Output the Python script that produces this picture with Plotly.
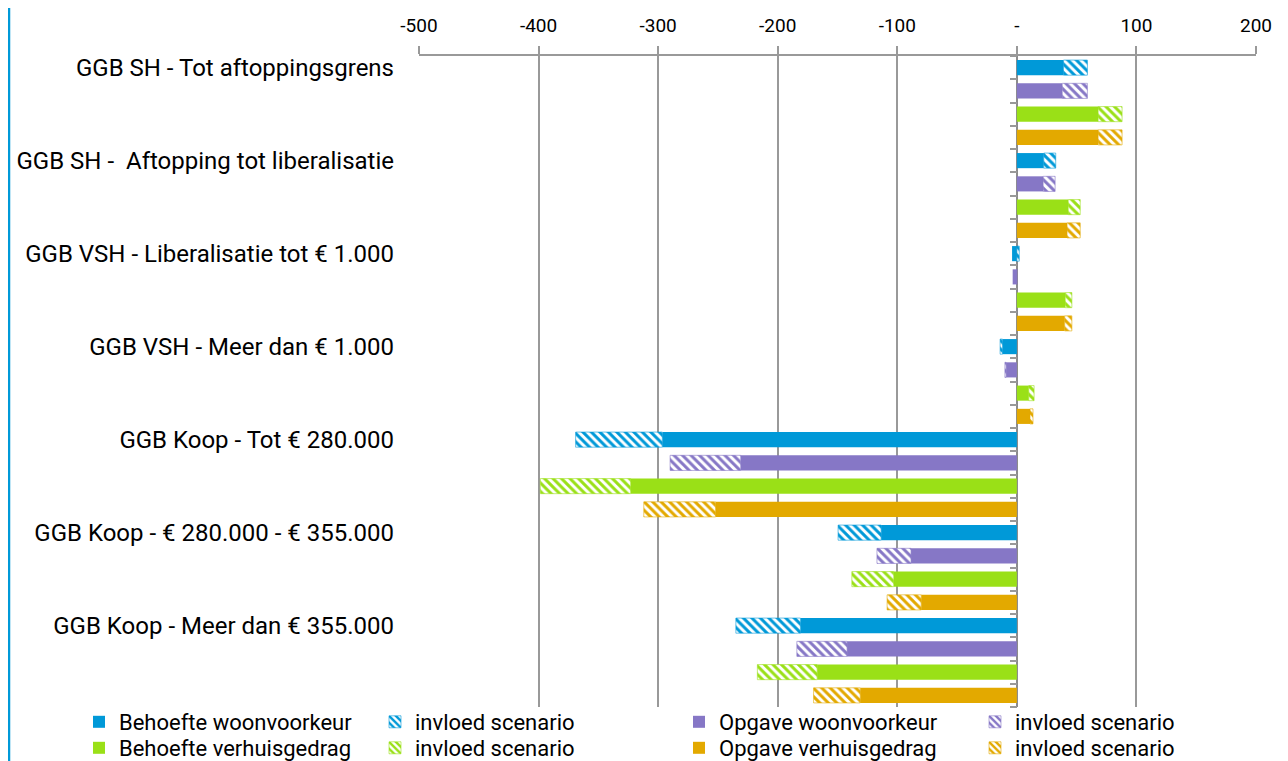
import plotly.graph_objects as go

groups = [
    "GGB SH - Tot aftoppingsgrens",
    "GGB SH -  Aftopping tot liberalisatie",
    "GGB VSH - Liberalisatie tot € 1.000",
    "GGB VSH - Meer dan € 1.000",
    "GGB Koop - Tot € 280.000",
    "GGB Koop - € 280.000 - € 355.000",
    "GGB Koop - Meer dan € 355.000",
]

behoefte_woon = [39, 22.5, -4, -12, -296.5, -113.5, -181]
behoefte_woon_scen = [20, 10, 2, -2, -72.5, -36, -54]
opgave_woon = [38, 22, -3.5, -9, -231, -88.5, -142]
opgave_woon_scen = [21, 10, 0, -1, -59, -28.5, -42]
behoefte_verh = [68, 43, 40.5, 10, -323, -103, -167]
behoefte_verh_scen = [20, 10, 5.5, 4.4, -75.5, -35, -50]
opgave_verh = [68, 42, 40, 11, -252, -80, -131]
opgave_verh_scen = [20, 11, 6, 2.5, -60, -28.5, -39]

x_tickvals = [-500, -400, -300, -200, -100, 0, 100, 200]
x_ticktext = ["-500", "-400", "-300", "-200", "-100", "-", "100", "200"]

# (name, base, scenario, colour, slot in group, legend column, legend row)
series = [
    ("Behoefte woonvoorkeur", behoefte_woon, behoefte_woon_scen, "#0099D8", 0, 0, 0),
    ("Opgave woonvoorkeur", opgave_woon, opgave_woon_scen, "#8677C6", 1, 2, 0),
    ("Behoefte verhuisgedrag", behoefte_verh, behoefte_verh_scen, "#9AE017", 2, 0, 1),
    ("Opgave verhuisgedrag", opgave_verh, opgave_verh_scen, "#E3A900", 3, 2, 1),
]

FONT = "Roboto, Liberation Sans Narrow, DejaVu Sans Condensed, sans-serif"
n_per = 4
n_groups = len(groups)
n_slots = n_groups * n_per
boundaries = [i - 0.5 for i in range(n_slots + 1)]

# page offset (body margin) and plot area in figure pixels
OFF = 8
W, H = 1288 - OFF, 761 - OFF
PL, PR, PT, PB = 419 - OFF, 1256 - OFF, 56 - OFF, 707 - OFF
PW, PH = PR - PL, PB - PT

legend_cols_px = [c - OFF for c in (79, 375, 679, 975)]
legend_rows_px = [r - OFF for r in (722, 748)]

fig = go.Figure()
legend_layouts = {}
li = 0
for name, base, scen, col, k, lc, lr in series:
    ys = [g * n_per + k for g in range(n_groups)]
    for j, (vals, is_scen) in enumerate([(base, False), (scen, True)]):
        li += 1
        lname = "legend" if li == 1 else f"legend{li}"
        if is_scen:
            marker = dict(color="white", line=dict(width=0.6, color=col),
                          pattern=dict(shape="\\", fgcolor=col, bgcolor="white",
                                       size=6, solidity=0.5, fillmode="replace"))
            tname = "invloed scenario"
        else:
            marker = dict(color=col, line=dict(width=0))
            tname = name
        fig.add_trace(go.Bar(
            y=ys, x=vals, orientation="h", name=tname, marker=marker,
            width=0.65, legend=lname,
        ))
        xpx = legend_cols_px[lc + j]
        ypx = legend_rows_px[lr]
        legend_layouts[lname] = dict(
            x=(xpx - PL) / PW, xanchor="left",
            y=(PB - ypx) / PH, yanchor="middle",
            font=dict(size=22, family=FONT, color="#000000"),
            bgcolor="rgba(0,0,0,0)", itemclick=False, itemdoubleclick=False,
        )

# helper trace so the tick axis on the zero line is drawn
fig.add_trace(go.Scatter(
    x=behoefte_woon, y=[g * n_per for g in range(n_groups)], yaxis="y2",
    mode="markers", marker=dict(size=0.1, opacity=0), showlegend=False,
    hoverinfo="skip",
))

fig.update_layout(
    width=W, height=H,
    barmode="relative",
    paper_bgcolor="white", plot_bgcolor="white",
    margin=dict(l=PL, r=W - PR, t=PT, b=H - PB, autoexpand=False),
    font=dict(family=FONT, size=19, color="#000000"),
    xaxis=dict(
        side="top", range=[-500, 200], tickvals=x_tickvals, ticktext=x_ticktext,
        showgrid=True, gridcolor="#999999", gridwidth=2,
        showline=True, linecolor="#999999", linewidth=2,
        ticks="outside", ticklen=8, tickcolor="#999999", tickwidth=2,
        ticklabelstandoff=6,
        zeroline=True, zerolinecolor="#8c8c8c", zerolinewidth=2,
        tickfont=dict(size=19, family=FONT),
        fixedrange=True, automargin=False,
    ),
    yaxis=dict(
        range=[n_slots - 0.5, -0.5],
        tickvals=[g * n_per for g in range(n_groups)],
        ticktext=groups,
        showgrid=False, zeroline=False, showline=False, ticks="",
        ticklabelstandoff=24, automargin=False,
        tickfont=dict(size=24, family=FONT),
    ),
    yaxis2=dict(
        overlaying="y", anchor="free", position=500 / 700, side="left",
        range=[n_slots - 0.5, -0.5], tickvals=boundaries,
        ticks="outside", ticklen=7, tickcolor="#999999", tickwidth=2,
        showticklabels=False, showgrid=False, zeroline=False, showline=False,
        automargin=False,
    ),
    showlegend=True,
    shapes=[
        dict(type="line", xref="paper", yref="paper",
             x0=(9 - OFF - PL) / PW, x1=(9 - OFF - PL) / PW, y0=-0.2,
             y1=(PB - (7 - OFF)) / PH,
             line=dict(color="#0099D8", width=2.5)),
        dict(type="line", xref="paper", yref="paper",
             x0=(9 - OFF - PL) / PW, x1=1.2, y0=(PB - (7 - OFF)) / PH,
             y1=(PB - (7 - OFF)) / PH,
             line=dict(color="#cfe9f6", width=2)),
    ],
)
fig.update_layout(**legend_layouts)

fig.write_html("out.html")
